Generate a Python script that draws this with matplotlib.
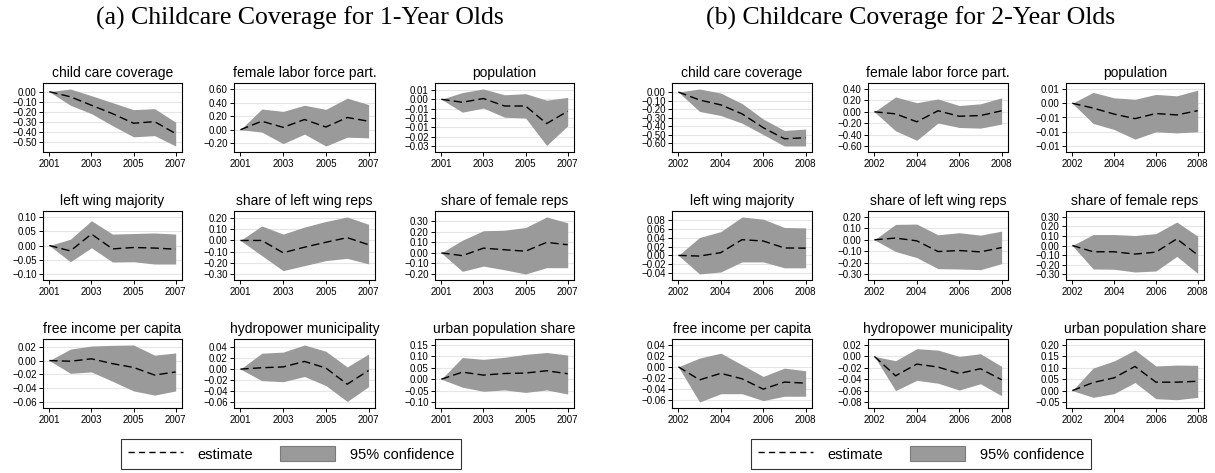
import matplotlib
matplotlib.use("Agg")
import matplotlib.pyplot as plt
from matplotlib.lines import Line2D
from matplotlib.patches import Patch
from matplotlib.ticker import FixedLocator, FuncFormatter

plt.rcParams.update({
    "font.family": ["Liberation Sans", "DejaVu Sans"],
    "axes.linewidth": 0.8,
    "xtick.major.size": 3,
    "ytick.major.size": 3,
    "xtick.major.width": 0.7,
    "ytick.major.width": 0.7,
    "xtick.labelsize": 7,
    "ytick.labelsize": 7,
    "xtick.major.pad": 2,
    "ytick.major.pad": 1.5,
})

# ---------------- Data ----------------
years_a = [2001, 2002, 2003, 2004, 2005, 2006, 2007]
years_b = [2002, 2003, 2004, 2005, 2006, 2007, 2008]
xticks_a = [2001, 2003, 2005, 2007]
xticks_b = [2002, 2004, 2006, 2008]

titles = ["child care coverage", "female labor force part.", "population",
          "left wing majority", "share of left wing reps", "share of female reps",
          "free income per capita", "hydropower municipality", "urban population share"]

# panel (a): 1-year olds
a_cc_est = [0, -0.051, -0.136, -0.22, -0.316, -0.30, -0.42]
a_cc_lo = [0, -0.136, -0.22, -0.34, -0.452, -0.44, -0.544]
a_cc_hi = [0, 0.027, -0.04, -0.11, -0.18, -0.17, -0.306]
a_cc_ticks = [0, -0.1, -0.2, -0.3, -0.4, -0.5]

a_flf_est = [0, 0.125, 0.035, 0.15, 0.04, 0.18, 0.125]
a_flf_lo = [0, -0.035, -0.205, -0.065, -0.24, -0.11, -0.12]
a_flf_hi = [0, 0.305, 0.27, 0.36, 0.30, 0.465, 0.37]
a_flf_ticks = [0.6, 0.4, 0.2, 0, -0.2]

a_pop_est = [0, -0.0016, 0.0004, -0.0036, -0.0036, -0.013, -0.0064]
a_pop_lo = [0, -0.0069, -0.0047, -0.0096, -0.010, -0.0247, -0.0142]
a_pop_hi = [0, 0.0036, 0.0055, 0.0024, 0.003, -0.0005, 0.001]
a_pop_ticks = [0.005, 0, -0.005, -0.01, -0.015, -0.02, -0.025]

a_lwm_est = [0, -0.019, 0.04, -0.012, -0.007, -0.009, -0.013]
a_lwm_lo = [0, -0.057, -0.008, -0.058, -0.057, -0.065, -0.065]
a_lwm_hi = [0, 0.022, 0.087, 0.04, 0.042, 0.044, 0.04]
a_lwm_ticks = [0.1, 0.05, 0, -0.05, -0.1]

a_slw_est = [0, 0, -0.11, -0.06, -0.016, 0.025, -0.038]
a_slw_lo = [0, -0.135, -0.27, -0.225, -0.18, -0.16, -0.21]
a_slw_hi = [0, 0.13, 0.057, 0.12, 0.17, 0.21, 0.145]
a_slw_ticks = [0.2, 0.1, 0, -0.1, -0.2, -0.3]

a_sfr_est = [0, -0.026, 0.045, 0.03, 0.016, 0.10, 0.077]
a_sfr_lo = [0, -0.175, -0.125, -0.16, -0.20, -0.14, -0.14]
a_sfr_hi = [0, 0.12, 0.21, 0.215, 0.24, 0.34, 0.285]
a_sfr_ticks = [0.3, 0.2, 0.1, 0, -0.1, -0.2]

a_fi_est = [0, -0.001, 0.0025, -0.0045, -0.010, -0.021, -0.0165]
a_fi_lo = [0, -0.0185, -0.0165, -0.030, -0.044, -0.050, -0.044]
a_fi_hi = [0, 0.0165, 0.021, 0.022, 0.0225, 0.0078, 0.011]
a_fi_ticks = [0.02, 0, -0.02, -0.04, -0.06]

a_hp_est = [0, 0.0025, 0.004, 0.014, 0.002, -0.0275, -0.0025]
a_hp_lo = [0, -0.021, -0.023, -0.0135, -0.030, -0.059, -0.032]
a_hp_hi = [0, 0.029, 0.031, 0.044, 0.0325, 0.004, 0.0275]
a_hp_ticks = [0.04, 0.02, 0, -0.02, -0.04, -0.06]

a_up_est = [0, 0.031, 0.018, 0.025, 0.027, 0.037, 0.024]
a_up_lo = [0, -0.035, -0.053, -0.047, -0.058, -0.047, -0.065]
a_up_hi = [0, 0.095, 0.087, 0.096, 0.109, 0.117, 0.106]
a_up_ticks = [0.15, 0.1, 0.05, 0, -0.05, -0.1]

# panel (b): 2-year olds
b_cc_est = [0, -0.093, -0.15, -0.255, -0.417, -0.547, -0.535]
b_cc_lo = [0, -0.227, -0.275, -0.364, -0.498, -0.632, -0.632]
b_cc_hi = [0, 0.036, -0.012, -0.134, -0.316, -0.45, -0.433]
b_cc_ticks = [0, -0.1, -0.2, -0.3, -0.4, -0.5, -0.6]

b_flf_est = [0, -0.036, -0.175, 0.018, -0.078, -0.066, 0.018]
b_flf_lo = [0, -0.334, -0.50, -0.197, -0.275, -0.287, -0.215]
b_flf_hi = [0, 0.26, 0.16, 0.225, 0.11, 0.14, 0.245]
b_flf_ticks = [0.4, 0.2, 0, -0.2, -0.4, -0.6]

b_pop_est = [0, -0.0017, -0.0038, -0.0054, -0.0036, -0.0041, -0.0026]
b_pop_lo = [0, -0.0071, -0.0092, -0.0126, -0.010, -0.0104, -0.010]
b_pop_hi = [0, 0.0038, 0.0019, 0.0014, 0.0031, 0.0026, 0.0046]
b_pop_ticks = [0.005, 0, -0.005, -0.01, -0.015]

b_lwm_est = [0, -0.0016, 0.0063, 0.036, 0.033, 0.017, 0.0166]
b_lwm_lo = [0, -0.0427, -0.038, -0.015, -0.015, -0.0285, -0.0285]
b_lwm_hi = [0, 0.041, 0.0545, 0.088, 0.083, 0.064, 0.063]
b_lwm_ticks = [0.08, 0.06, 0.04, 0.02, 0, -0.02, -0.04]

b_slw_est = [0, 0.015, -0.009, -0.103, -0.094, -0.106, -0.068]
b_slw_lo = [0, -0.103, -0.156, -0.253, -0.256, -0.262, -0.209]
b_slw_hi = [0, 0.135, 0.138, 0.044, 0.062, 0.041, 0.076]
b_slw_ticks = [0.2, 0.1, 0, -0.1, -0.2, -0.3]

b_sfr_est = [0, -0.066, -0.066, -0.09, -0.07, 0.07, -0.10]
b_sfr_lo = [0, -0.247, -0.25, -0.279, -0.268, -0.115, -0.293]
b_sfr_hi = [0, 0.115, 0.115, 0.105, 0.125, 0.247, 0.098]
b_sfr_ticks = [0.3, 0.2, 0.1, 0, -0.1, -0.2, -0.3]

b_fi_est = [0, -0.024, -0.012, -0.022, -0.041, -0.028, -0.030]
b_fi_lo = [0, -0.0646, -0.0494, -0.0494, -0.062, -0.054, -0.054]
b_fi_hi = [0, 0.016, 0.025, 0.0037, -0.0177, -0.0024, -0.0073]
b_fi_ticks = [0.04, 0.02, 0, -0.02, -0.04, -0.06]

b_hp_est = [0, -0.034, -0.0135, -0.0187, -0.030, -0.0216, -0.041]
b_hp_lo = [0, -0.060, -0.042, -0.047, -0.059, -0.048, -0.069]
b_hp_hi = [0, -0.0076, 0.0135, 0.011, 0.0, 0.0047, -0.0175]
b_hp_ticks = [0.02, 0, -0.02, -0.04, -0.06, -0.08]

b_up_est = [0, 0.0355, 0.056, 0.106, 0.037, 0.037, 0.041]
b_up_lo = [0, -0.0296, -0.0133, 0.0355, -0.0355, -0.04, -0.0296]
b_up_hi = [0, 0.099, 0.13, 0.178, 0.108, 0.112, 0.111]
b_up_ticks = [0.2, 0.15, 0.1, 0.05, 0, -0.05]

panel_a = [(a_cc_est, a_cc_lo, a_cc_hi, a_cc_ticks),
           (a_flf_est, a_flf_lo, a_flf_hi, a_flf_ticks),
           (a_pop_est, a_pop_lo, a_pop_hi, a_pop_ticks),
           (a_lwm_est, a_lwm_lo, a_lwm_hi, a_lwm_ticks),
           (a_slw_est, a_slw_lo, a_slw_hi, a_slw_ticks),
           (a_sfr_est, a_sfr_lo, a_sfr_hi, a_sfr_ticks),
           (a_fi_est, a_fi_lo, a_fi_hi, a_fi_ticks),
           (a_hp_est, a_hp_lo, a_hp_hi, a_hp_ticks),
           (a_up_est, a_up_lo, a_up_hi, a_up_ticks)]
panel_b = [(b_cc_est, b_cc_lo, b_cc_hi, b_cc_ticks),
           (b_flf_est, b_flf_lo, b_flf_hi, b_flf_ticks),
           (b_pop_est, b_pop_lo, b_pop_hi, b_pop_ticks),
           (b_lwm_est, b_lwm_lo, b_lwm_hi, b_lwm_ticks),
           (b_slw_est, b_slw_lo, b_slw_hi, b_slw_ticks),
           (b_sfr_est, b_sfr_lo, b_sfr_hi, b_sfr_ticks),
           (b_fi_est, b_fi_lo, b_fi_hi, b_fi_ticks),
           (b_hp_est, b_hp_lo, b_hp_hi, b_hp_ticks),
           (b_up_est, b_up_lo, b_up_hi, b_up_ticks)]

# ---------------- Layout (pixels) ----------------
W, H = 1215, 473
cols_a = [(43, 182), (234, 375), (435, 574)]
cols_b = [(672, 812), (868, 1008), (1066, 1204)]
rows = [(83, 152), (211, 280), (339, 408)]

FILL = "#9a9a9a"
GRID = "#e6e6e6"


def fmt(v, pos=None):
    return ("%.2f" % v).replace("-", "\u2212")


fig = plt.figure(figsize=(W / 100, H / 100), dpi=100)


def draw_panel(panel, years, xticks, cols):
    for i, (est, lo, hi, ticks) in enumerate(panel):
        r, c = divmod(i, 3)
        x0, x1 = cols[c]
        y0, y1 = rows[r]
        ax = fig.add_axes([x0 / W, 1 - y1 / H, (x1 - x0) / W, (y1 - y0) / H])
        ax.fill_between(years, lo, hi, color=FILL, linewidth=0, zorder=2)
        ax.plot(years, est, color="black", lw=1.0, dashes=(6, 3), zorder=3)
        ymin = min(min(ticks), min(lo))
        ymax = max(max(ticks), max(hi))
        pad = 0.105 * (ymax - ymin)
        ax.set_ylim(ymin - pad, ymax + pad)
        ax.set_xlim(years[0] - 0.3, years[-1] + 0.3)
        ax.yaxis.set_major_locator(FixedLocator(ticks))
        ax.yaxis.set_major_formatter(FuncFormatter(fmt))
        ax.set_xticks(xticks)
        ax.set_xticklabels([str(x) for x in xticks])
        ax.grid(axis="y", color=GRID, lw=0.8, zorder=0)
        ax.set_axisbelow(True)
        ax.set_title(titles[i], fontsize=10, pad=4)


draw_panel(panel_a, years_a, xticks_a, cols_a)
draw_panel(panel_b, years_b, xticks_b, cols_b)

# panel titles
fig.text(300 / W, 1 - 18 / H, "(a) Childcare Coverage for 1-Year Olds",
         ha="center", va="center", fontsize=18.5, family=["Liberation Serif", "DejaVu Serif"])
fig.text(911 / W, 1 - 18 / H, "(b) Childcare Coverage for 2-Year Olds",
         ha="center", va="center", fontsize=18.5, family=["Liberation Serif", "DejaVu Serif"])

# legends
handles = [Line2D([], [], color="black", lw=1.0, dashes=(4.5, 3)),
           Patch(facecolor=FILL, edgecolor="#7a7a7a", linewidth=0.8)]
labels = ["estimate", "95% confidence"]
for cx in (291, 921):
    leg = fig.legend(handles, labels, loc="center", bbox_to_anchor=(cx / W, 1 - 454 / H),
                     ncol=2, frameon=True, fancybox=False, edgecolor="black",
                     fontsize=10.5, handlelength=3.8, handleheight=1.2,
                     columnspacing=1.8, borderpad=0.5, handletextpad=1.0)
    leg.get_frame().set_linewidth(0.8)

fig.savefig("out.png", dpi=100)
